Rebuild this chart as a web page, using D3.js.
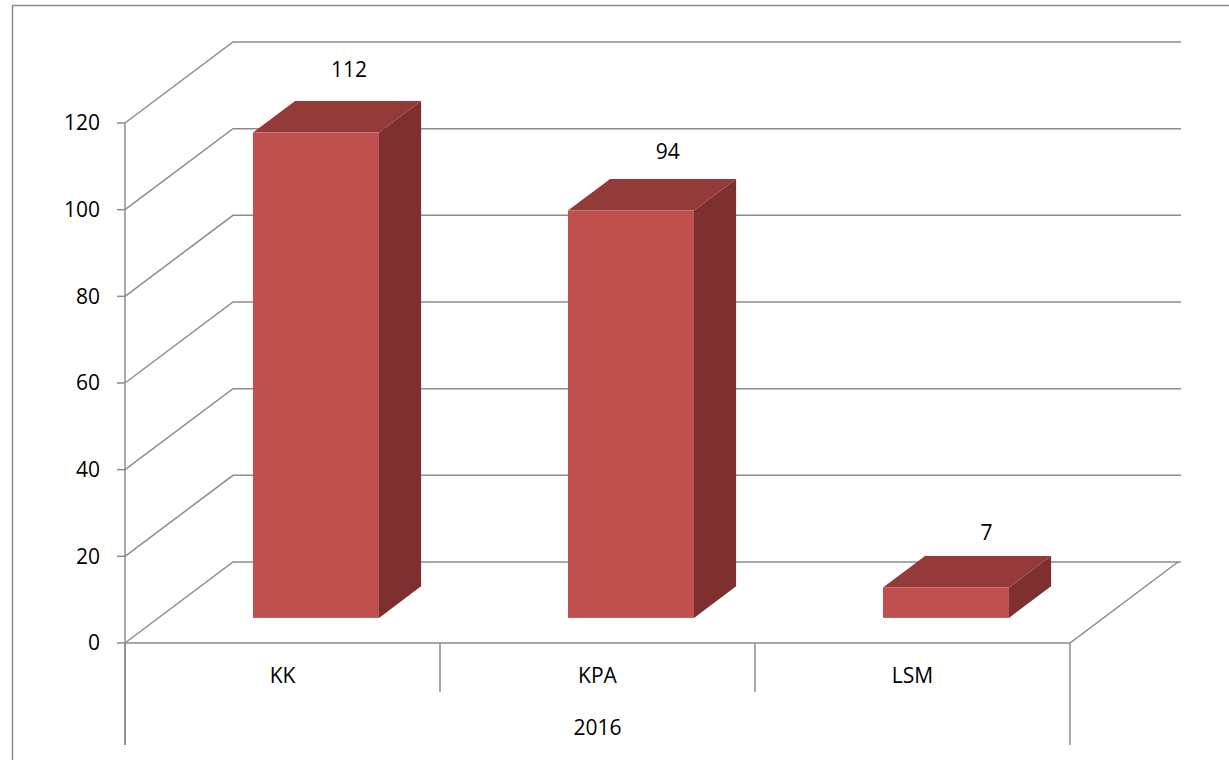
<!DOCTYPE html>
<html><head><meta charset="utf-8">
<script src="https://cdn.jsdelivr.net/npm/d3@7/dist/d3.min.js"></script>
<style>body{margin:0;background:#fff}svg{display:block}text{font-family:"Open Sans",sans-serif;fill:#000}</style>
</head><body><svg id="c" width="1229" height="760"></svg>
<script>
const categories = ["KK", "KPA", "LSM"];
const values = [112, 94, 7];
const groupLabel = "2016";
const yTicks = [0, 20, 40, 60, 80, 100, 120];

const svg = d3.select("#c");
const W = 1229, H = 760;
const x = d3.scaleBand().domain(categories).range([125, 1070]).paddingInner(0.6).paddingOuter(0.3);
const y = d3.scaleLinear().domain([0, 120]).range([643, 123]);
const depth = d3.scaleLinear().domain([0, 1]).range([0, 1]);
const DX = 108, DY = -81;
const off = z => [DX * depth(z), DY * depth(z)];
const grid = "#8c8c8c";

// chart border
svg.append("rect").attr("x", 12.5).attr("y", 5.5).attr("width", 1240).attr("height", 800)
  .attr("fill", "none").attr("stroke", "#878787").attr("stroke-width", 1.5);

const g = svg.append("g");
// side-wall diagonals and back-wall gridlines
yTicks.forEach(v => {
  const yv = y(v);
  g.append("path").attr("d", `M125,${yv}L${125 + DX},${yv + DY}L1181,${yv + DY}`)
    .attr("fill", "none").attr("stroke", grid).attr("stroke-width", 1.5);
});
// floor
g.append("path").attr("d", `M125,${y(0)}L1070,${y(0)}L${1070 + DX},${y(0) + DY}`)
  .attr("fill", "none").attr("stroke", grid).attr("stroke-width", 1.5);

// y axis
g.append("line").attr("x1", 125).attr("x2", 125).attr("y1", y(120)).attr("y2", 745)
  .attr("stroke", grid).attr("stroke-width", 1.5);
yTicks.forEach(v => {
  g.append("line").attr("x1", 117).attr("x2", 125).attr("y1", y(v)).attr("y2", y(v))
    .attr("stroke", grid).attr("stroke-width", 1.5);
  g.append("text").attr("x", 100).attr("y", y(v)).attr("dy", "0.35em").attr("text-anchor", "end")
    .attr("font-size", 21).text(v);
});

// category dividers
const step = x.step();
const edges = [125, 125 + step, 125 + 2 * step, 1070];
edges.forEach((e, i) => {
  const long = (i === 0 || i === edges.length - 1);
  g.append("line").attr("x1", e).attr("x2", e).attr("y1", y(0)).attr("y2", long ? 745 : 692)
    .attr("stroke", grid).attr("stroke-width", 1.5);
});
categories.forEach((c, i) => {
  g.append("text").attr("x", 125 + step * (i + 0.5)).attr("y", 676).attr("dy", "0.35em")
    .attr("text-anchor", "middle").attr("font-size", 21).text(c);
});
g.append("text").attr("x", (125 + 1070) / 2).attr("y", 728).attr("dy", "0.35em")
  .attr("text-anchor", "middle").attr("font-size", 21).text(groupLabel);

// bars
const z0 = 0.31, z1 = 0.70;
const [fx, fy] = off(z0), [bx, by] = off(z1);
const sdx = bx - fx, sdy = by - fy;
const bars = svg.append("g");
categories.forEach((c, i) => {
  const x0 = x(c) + fx, x1 = x0 + x.bandwidth();
  const yt = y(values[i]) + fy, yb = y(0) + fy;
  // side
  bars.append("path").attr("d", `M${x1},${yt}L${x1 + sdx},${yt + sdy}L${x1 + sdx},${yb + sdy}L${x1},${yb}Z`)
    .attr("fill", "#7d302f");
  // top
  bars.append("path").attr("d", `M${x0},${yt}L${x0 + sdx},${yt + sdy}L${x1 + sdx},${yt + sdy}L${x1},${yt}Z`)
    .attr("fill", "#943a39");
  // front
  bars.append("rect").attr("x", x0).attr("y", yt).attr("width", x1 - x0).attr("height", yb - yt)
    .attr("fill", "#c0504d");
  // value label
  const cx = (x0 + x1) / 2;
  bars.append("text").attr("x", cx + 33 + 3.75 * i).attr("y", yt - 63 + 4 * i).attr("dy", "0.35em")
    .attr("text-anchor", "middle").attr("font-size", 21).text(values[i]);
});
</script></body></html>
